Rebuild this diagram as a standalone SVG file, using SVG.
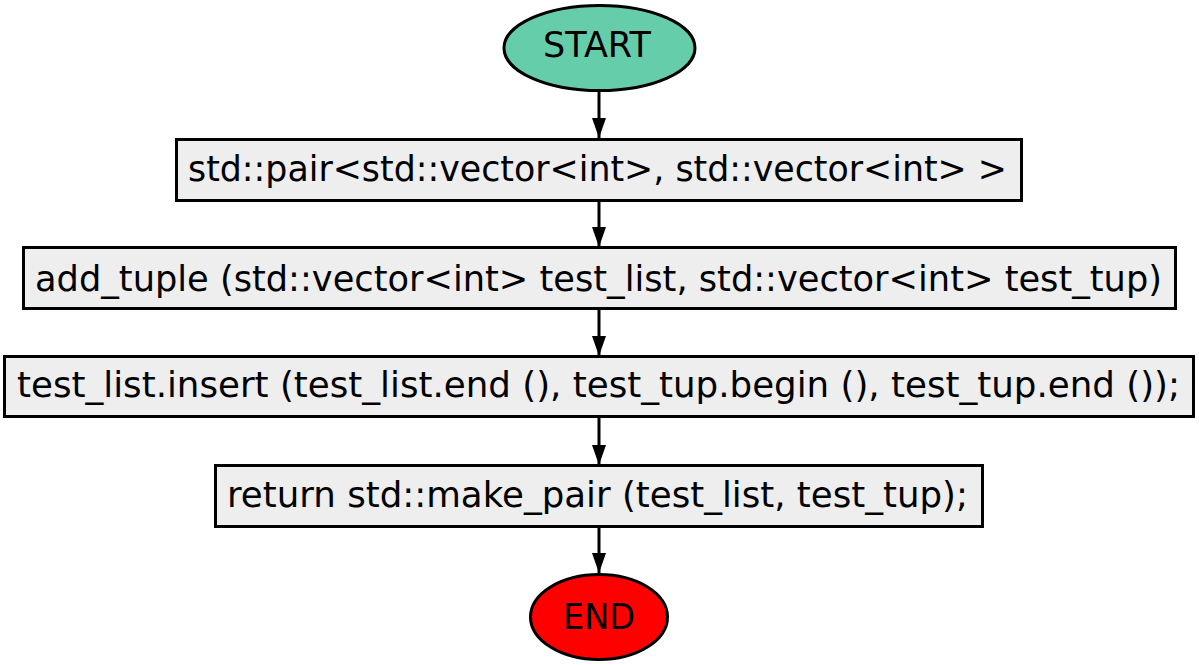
<svg xmlns="http://www.w3.org/2000/svg" width="1199" height="665" viewBox="0 0 1199 665">
<defs>
<style>
.box{fill:#eeeeee;stroke:#000;stroke-width:3}
.lbl{font-family:"DejaVu Sans","Verdana",sans-serif;font-size:35px;fill:#000;text-anchor:middle}
.edge{stroke:#000;stroke-width:3;fill:none}
</style>
<marker id="ah" viewBox="0 0 20 14" refX="20" refY="7" markerWidth="20" markerHeight="14" markerUnits="userSpaceOnUse" orient="auto">
<path d="M0,0 L20,7 L0,14 Z" fill="#000"/>
</marker>
</defs>
<rect width="1199" height="665" fill="#fff"/>
<g id="edges">
<line class="edge" x1="599" y1="92" x2="599" y2="138" marker-end="url(#ah)"/>
<line class="edge" x1="599" y1="201" x2="599" y2="247" marker-end="url(#ah)"/>
<line class="edge" x1="599" y1="309" x2="599" y2="356" marker-end="url(#ah)"/>
<line class="edge" x1="599" y1="417" x2="599" y2="465" marker-end="url(#ah)"/>
<line class="edge" x1="599" y1="527" x2="599" y2="573" marker-end="url(#ah)"/>
</g>
<g id="start">
<ellipse cx="599.5" cy="48" rx="95.5" ry="42.5" fill="#66cdaa" stroke="#000" stroke-width="3"/>
<text class="lbl" x="597" y="57" textLength="108" lengthAdjust="spacingAndGlyphs">START</text>
</g>
<g id="n1">
<rect class="box" x="176.5" y="139.5" width="845" height="61"/>
<text class="lbl" x="597.5" y="181" textLength="819" lengthAdjust="spacingAndGlyphs">std::pair&lt;std::vector&lt;int&gt;, std::vector&lt;int&gt; &gt;</text>
</g>
<g id="n2">
<rect class="box" x="23.5" y="247.5" width="1152" height="61"/>
<text class="lbl" x="598.5" y="291" textLength="1127" lengthAdjust="spacingAndGlyphs">add_tuple (std::vector&lt;int&gt; test_list, std::vector&lt;int&gt; test_tup)</text>
</g>
<g id="n3">
<rect class="box" x="4.5" y="356.5" width="1189" height="60"/>
<text class="lbl" x="598.5" y="397" textLength="1163" lengthAdjust="spacingAndGlyphs">test_list.insert (test_list.end (), test_tup.begin (), test_tup.end ());</text>
</g>
<g id="n4">
<rect class="box" x="215.5" y="465.5" width="767" height="61"/>
<text class="lbl" x="597.5" y="507" textLength="741" lengthAdjust="spacingAndGlyphs">return std::make_pair (test_list, test_tup);</text>
</g>
<g id="end">
<ellipse cx="599" cy="617" rx="68.5" ry="42.5" fill="#ff0000" stroke="#000" stroke-width="3"/>
<text class="lbl" x="599" y="629" textLength="72" lengthAdjust="spacingAndGlyphs">END</text>
</g>
</svg>
